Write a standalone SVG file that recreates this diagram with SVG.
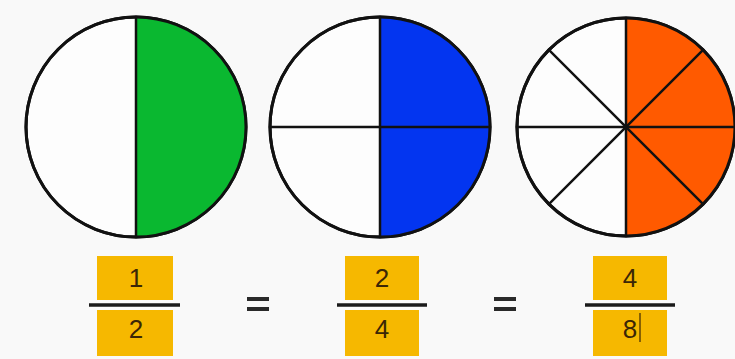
<svg xmlns="http://www.w3.org/2000/svg" width="735" height="359" viewBox="0 0 735 359">
  <style>
    .disc { stroke: #111; stroke-width: 3; }
    .spoke { stroke: #111; stroke-width: 2.5; stroke-linecap: round; }
    .box { fill: #f6b800; }
    .bar { stroke: #1a1a1a; stroke-width: 3.5; }
    .num { font-family: "Liberation Sans", Arial, sans-serif; font-size: 26px; fill: #3b2606; text-anchor: middle; }
    .eq { fill: #2a2a2a; }
  </style>
  <rect x="0" y="0" width="735" height="359" fill="#f9f9f9"/>

  <g id="circle-half">
    <circle cx="136" cy="127" r="110" fill="#fdfdfd" class="disc"/>
    <path d="M136 17 A110 110 0 0 1 136 237 Z" fill="#0ab830"/>
    <circle cx="136" cy="127" r="110" fill="none" class="disc"/>
    <line x1="136" y1="17" x2="136" y2="237" class="spoke"/>
  </g>

  <g id="circle-quarters">
    <circle cx="380" cy="127" r="110" fill="#fdfdfd" class="disc"/>
    <path d="M380 17 A110 110 0 0 1 380 237 Z" fill="#0335f0"/>
    <circle cx="380" cy="127" r="110" fill="none" class="disc"/>
    <line x1="380" y1="17" x2="380" y2="237" class="spoke"/>
    <line x1="270" y1="127" x2="490" y2="127" class="spoke"/>
  </g>

  <g id="circle-eighths">
    <circle cx="626" cy="127" r="109" fill="#fdfdfd" class="disc"/>
    <path d="M626 18 A109 109 0 0 1 626 236 Z" fill="#ff5a00"/>
    <circle cx="626" cy="127" r="109" fill="none" class="disc"/>
    <line x1="626" y1="18" x2="626" y2="236" class="spoke"/>
    <line x1="517" y1="127" x2="735" y2="127" class="spoke"/>
    <line x1="548.9" y1="49.9" x2="703.1" y2="204.1" class="spoke"/>
    <line x1="703.1" y1="49.9" x2="548.9" y2="204.1" class="spoke"/>
  </g>

  <g id="fraction-1-2">
    <rect x="97" y="256" width="76" height="44" class="box"/>
    <rect x="97" y="310" width="76" height="46" class="box"/>
    <line x1="89" y1="305" x2="180" y2="305" class="bar"/>
    <text x="136" y="287" class="num">1</text>
    <text x="136" y="338" class="num">2</text>
  </g>

  <g id="equals-1">
    <rect x="247" y="297" width="22" height="4" class="eq"/>
    <rect x="247" y="307" width="22" height="4" class="eq"/>
  </g>

  <g id="fraction-2-4">
    <rect x="345" y="256" width="74" height="44" class="box"/>
    <rect x="345" y="310" width="74" height="46" class="box"/>
    <line x1="337" y1="305" x2="427" y2="305" class="bar"/>
    <text x="382" y="287" class="num">2</text>
    <text x="382" y="338" class="num">4</text>
  </g>

  <g id="equals-2">
    <rect x="494" y="297" width="22" height="4" class="eq"/>
    <rect x="494" y="307" width="22" height="4" class="eq"/>
  </g>

  <g id="fraction-4-8">
    <rect x="593" y="256" width="74" height="44" class="box"/>
    <rect x="593" y="310" width="74" height="46" class="box"/>
    <line x1="585" y1="305" x2="675" y2="305" class="bar"/>
    <text x="630" y="287" class="num">4</text>
    <text x="630" y="338" class="num">8</text>
    <line x1="640" y1="313" x2="640" y2="342" stroke="#3b2606" stroke-width="1.2"/>
  </g>
</svg>
